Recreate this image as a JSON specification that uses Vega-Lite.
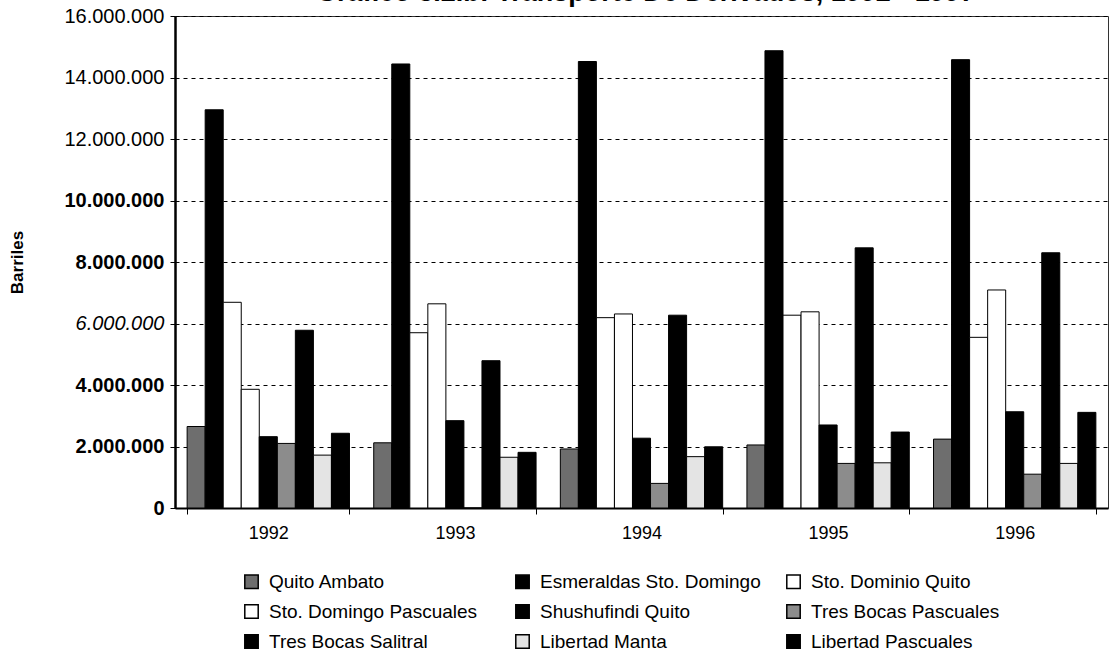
{
  "$schema": "https://vega.github.io/schema/vega-lite/v6.json",
  "width": 933,
  "height": 492,
  "autosize": {"type": "none"},
  "padding": {"left": 175, "top": 16, "right": 12, "bottom": 160},
  "background": "white",
  "title": {
    "text": "Gráfico 3.2.b: Transporte De Derivados, 1992 - 1997",
    "fontSize": 27,
    "fontWeight": "bold",
    "font": "Liberation Sans",
    "anchor": "middle",
    "dx": 4,
    "offset": 0,
    "dy": 28,
    "baseline": "bottom",
    "color": "#000000"
  },
  "config": {
    "font": "Liberation Sans",
    "view": {"stroke": "#333333", "strokeWidth": 1},
    "locale": {"number": {"decimal": ",", "thousands": ".", "grouping": [3], "currency": ["$", ""]}}
  },
  "data": {
    "values": [
      {"year": "1992", "ruta": "Quito Ambato", "barriles": 2650000},
      {"year": "1992", "ruta": "Esmeraldas Sto. Domingo", "barriles": 12950000},
      {"year": "1992", "ruta": "Sto. Dominio Quito", "barriles": 6690000},
      {"year": "1992", "ruta": "Sto. Domingo Pascuales", "barriles": 3860000},
      {"year": "1992", "ruta": "Shushufindi Quito", "barriles": 2320000},
      {"year": "1992", "ruta": "Tres Bocas Pascuales", "barriles": 2100000},
      {"year": "1992", "ruta": "Tres Bocas Salitral", "barriles": 5780000},
      {"year": "1992", "ruta": "Libertad Manta", "barriles": 1720000},
      {"year": "1992", "ruta": "Libertad Pascuales", "barriles": 2430000},
      {"year": "1993", "ruta": "Quito Ambato", "barriles": 2120000},
      {"year": "1993", "ruta": "Esmeraldas Sto. Domingo", "barriles": 14440000},
      {"year": "1993", "ruta": "Sto. Dominio Quito", "barriles": 5700000},
      {"year": "1993", "ruta": "Sto. Domingo Pascuales", "barriles": 6640000},
      {"year": "1993", "ruta": "Shushufindi Quito", "barriles": 2840000},
      {"year": "1993", "ruta": "Tres Bocas Pascuales", "barriles": 0},
      {"year": "1993", "ruta": "Tres Bocas Salitral", "barriles": 4790000},
      {"year": "1993", "ruta": "Libertad Manta", "barriles": 1650000},
      {"year": "1993", "ruta": "Libertad Pascuales", "barriles": 1810000},
      {"year": "1994", "ruta": "Quito Ambato", "barriles": 1920000},
      {"year": "1994", "ruta": "Esmeraldas Sto. Domingo", "barriles": 14520000},
      {"year": "1994", "ruta": "Sto. Dominio Quito", "barriles": 6190000},
      {"year": "1994", "ruta": "Sto. Domingo Pascuales", "barriles": 6310000},
      {"year": "1994", "ruta": "Shushufindi Quito", "barriles": 2270000},
      {"year": "1994", "ruta": "Tres Bocas Pascuales", "barriles": 800000},
      {"year": "1994", "ruta": "Tres Bocas Salitral", "barriles": 6270000},
      {"year": "1994", "ruta": "Libertad Manta", "barriles": 1670000},
      {"year": "1994", "ruta": "Libertad Pascuales", "barriles": 1990000},
      {"year": "1995", "ruta": "Quito Ambato", "barriles": 2050000},
      {"year": "1995", "ruta": "Esmeraldas Sto. Domingo", "barriles": 14870000},
      {"year": "1995", "ruta": "Sto. Dominio Quito", "barriles": 6270000},
      {"year": "1995", "ruta": "Sto. Domingo Pascuales", "barriles": 6380000},
      {"year": "1995", "ruta": "Shushufindi Quito", "barriles": 2700000},
      {"year": "1995", "ruta": "Tres Bocas Pascuales", "barriles": 1450000},
      {"year": "1995", "ruta": "Tres Bocas Salitral", "barriles": 8460000},
      {"year": "1995", "ruta": "Libertad Manta", "barriles": 1470000},
      {"year": "1995", "ruta": "Libertad Pascuales", "barriles": 2470000},
      {"year": "1996", "ruta": "Quito Ambato", "barriles": 2240000},
      {"year": "1996", "ruta": "Esmeraldas Sto. Domingo", "barriles": 14580000},
      {"year": "1996", "ruta": "Sto. Dominio Quito", "barriles": 5550000},
      {"year": "1996", "ruta": "Sto. Domingo Pascuales", "barriles": 7090000},
      {"year": "1996", "ruta": "Shushufindi Quito", "barriles": 3130000},
      {"year": "1996", "ruta": "Tres Bocas Pascuales", "barriles": 1100000},
      {"year": "1996", "ruta": "Tres Bocas Salitral", "barriles": 8300000},
      {"year": "1996", "ruta": "Libertad Manta", "barriles": 1450000},
      {"year": "1996", "ruta": "Libertad Pascuales", "barriles": 3110000}
    ]
  },
  "mark": {"type": "bar", "stroke": "#000000", "strokeWidth": 1},
  "encoding": {
    "x": {
      "field": "year",
      "type": "nominal",
      "scale": {"paddingInner": 0.13, "paddingOuter": 0.065},
      "axis": {
        "title": null,
        "labelAngle": 0,
        "labelFontSize": 18,
        "labelColor": "#000000",
        "labelPadding": 10,
        "domainColor": "#000000",
        "domainWidth": 2,
        "tickColor": "#000000",
        "tickSize": 6,
        "tickBand": "extent"
      }
    },
    "xOffset": {
      "field": "ruta",
      "type": "nominal",
      "sort": ["Quito Ambato", "Esmeraldas Sto. Domingo", "Sto. Dominio Quito", "Sto. Domingo Pascuales", "Shushufindi Quito", "Tres Bocas Pascuales", "Tres Bocas Salitral", "Libertad Manta", "Libertad Pascuales"],
      "scale": {"paddingInner": 0, "paddingOuter": 0}
    },
    "y": {
      "field": "barriles",
      "type": "quantitative",
      "scale": {"domain": [0, 16000000], "nice": false},
      "axis": {
        "title": "Barriles",
        "titleFontSize": 17,
        "titleFontWeight": "bold",
        "titleColor": "#000000",
        "titlePadding": 37,
        "values": [0, 2000000, 4000000, 6000000, 8000000, 10000000, 12000000, 14000000, 16000000],
        "format": ",d",
        "labelFontSize": 20,
        "labelColor": "#000000",
        "labelFontWeight": {"condition": {"test": "datum.value <= 10000000 && datum.value != 6000000", "value": "bold"}, "value": "normal"},
        "labelFontStyle": {"condition": {"test": "datum.value == 6000000", "value": "italic"}, "value": "normal"},
        "labelPadding": 6,
        "domainColor": "#000000",
        "domainWidth": 2.5,
        "tickColor": "#000000",
        "tickSize": 5,
        "grid": true,
        "gridColor": "#000000",
        "gridDash": [4, 4],
        "gridWidth": 1
      }
    },
    "color": {
      "field": "ruta",
      "type": "nominal",
      "sort": ["Quito Ambato", "Esmeraldas Sto. Domingo", "Sto. Dominio Quito", "Sto. Domingo Pascuales", "Shushufindi Quito", "Tres Bocas Pascuales", "Tres Bocas Salitral", "Libertad Manta", "Libertad Pascuales"],
      "scale": {
        "domain": ["Quito Ambato", "Esmeraldas Sto. Domingo", "Sto. Dominio Quito", "Sto. Domingo Pascuales", "Shushufindi Quito", "Tres Bocas Pascuales", "Tres Bocas Salitral", "Libertad Manta", "Libertad Pascuales"],
        "range": ["#6e6e6e", "#000000", "#ffffff", "#ffffff", "#000000", "#8c8c8c", "#000000", "#e4e4e4", "#000000"]
      },
      "legend": {
        "title": null,
        "orient": "none",
        "legendX": 67,
        "legendY": 556,
        "direction": "horizontal",
        "columns": 3,
        "gridAlign": "all",
        "columnPadding": 22,
        "rowPadding": 9,
        "symbolType": "square",
        "symbolSize": 180,
        "symbolStrokeColor": "#000000",
        "symbolStrokeWidth": 1.5,
        "symbolOpacity": 1,
        "labelFontSize": 19,
        "labelColor": "#000000",
        "labelLimit": 320,
        "labelOffset": 8
      }
    }
  }
}
